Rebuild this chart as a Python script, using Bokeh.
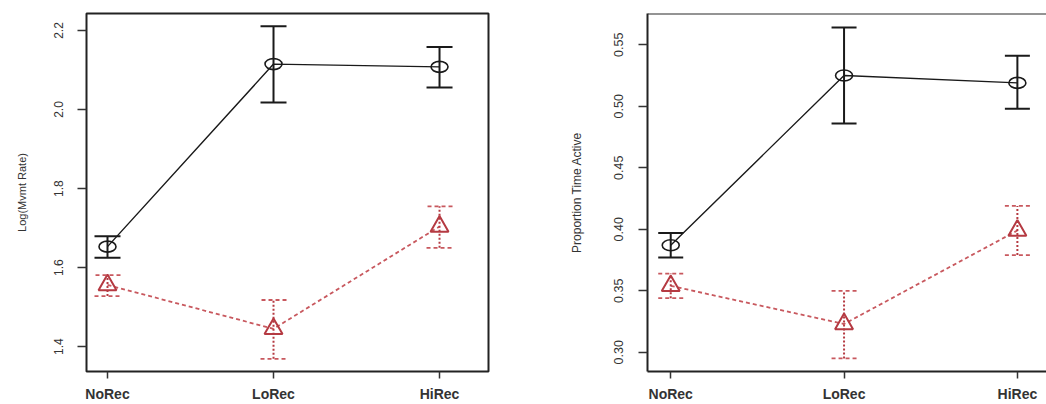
from bokeh.plotting import figure
from bokeh.layouts import row
from bokeh.models import ColumnDataSource, Whisker, TeeHead, FixedTicker, Span
from bokeh.embed import file_html
from bokeh.resources import INLINE

# ---------------- data ----------------
categories = ["NoRec", "LoRec", "HiRec"]
x_pos = [1, 2, 3]

# Panel 1: Log(Mvmt Rate)
rate_black_mean = [1.653, 2.115, 2.108]
rate_black_lo = [1.625, 2.018, 2.056]
rate_black_hi = [1.679, 2.211, 2.158]
rate_red_mean = [1.556, 1.445, 1.704]
rate_red_lo = [1.528, 1.369, 1.650]
rate_red_hi = [1.581, 1.518, 1.755]
rate_ticks = [1.4, 1.6, 1.8, 2.0, 2.2]
rate_tick_labels = ["1.4", "1.6", "1.8", "2.0", "2.2"]

# Panel 2: Proportion Time Active
act_black_mean = [0.387, 0.525, 0.519]
act_black_lo = [0.377, 0.486, 0.498]
act_black_hi = [0.397, 0.564, 0.541]
act_red_mean = [0.354, 0.323, 0.399]
act_red_lo = [0.344, 0.295, 0.379]
act_red_hi = [0.364, 0.350, 0.419]
act_ticks = [0.30, 0.35, 0.40, 0.45, 0.50, 0.55]
act_tick_labels = ["0.30", "0.35", "0.40", "0.45", "0.50", "0.55"]

FONT = "Liberation Sans"
BLACK = "#1a1a1a"
RED_MARK = "#b53a42"
RED_LINE = "#c8585e"


def make_panel(width, xr, yr, ticks, tick_labels, ylabel,
               b_mean, b_lo, b_hi, r_mean, r_lo, r_hi,
               border_left, border_right, border_top,
               tick_font, title_font, title_standoff, label_standoff,
               cap, full_box):
    p = figure(width=width, height=404, x_range=xr, y_range=yr,
               output_backend="svg", toolbar_location=None,
               min_border_left=border_left, min_border_right=border_right,
               min_border_top=border_top, min_border_bottom=31)
    p.xgrid.visible = False
    p.ygrid.visible = False
    p.background_fill_color = "white"
    p.border_fill_color = "white"

    # axes
    p.xaxis.ticker = FixedTicker(ticks=x_pos)
    p.xaxis.major_label_overrides = {x: c for x, c in zip(x_pos, categories)}
    p.xaxis.major_label_text_font = FONT
    p.xaxis.major_label_text_font_size = "14px"
    p.xaxis.major_label_text_font_style = "bold"
    p.xaxis.major_label_text_color = "#333333"
    p.xaxis.major_tick_out = 7
    p.xaxis.major_tick_in = 0
    p.xaxis.minor_tick_line_color = None
    p.xaxis.major_label_standoff = 7
    p.xaxis.major_tick_line_color = "#333333"
    p.xaxis.major_tick_line_width = 1.5

    p.yaxis.ticker = FixedTicker(ticks=ticks)
    p.yaxis.major_label_overrides = {t: s for t, s in zip(ticks, tick_labels)}
    p.yaxis.major_label_orientation = "vertical"
    p.yaxis.major_label_text_font = FONT
    p.yaxis.major_label_text_font_size = tick_font
    p.yaxis.major_label_text_color = "#333333"
    p.yaxis.major_tick_out = 9
    p.yaxis.major_tick_in = 0
    p.yaxis.minor_tick_line_color = None
    p.yaxis.major_label_standoff = label_standoff
    p.yaxis.major_tick_line_color = "#333333"
    p.yaxis.major_tick_line_width = 1.5
    p.yaxis.axis_label = ylabel
    p.yaxis.axis_label_text_font = FONT
    p.yaxis.axis_label_text_font_size = title_font
    p.yaxis.axis_label_text_font_style = "normal"
    p.yaxis.axis_label_text_color = "#333333"
    p.yaxis.axis_label_standoff = title_standoff

    if full_box:
        p.xaxis.axis_line_color = None
        p.yaxis.axis_line_color = None
        p.outline_line_color = "#222222"
        p.outline_line_width = 2
        p.outline_line_alpha = 1
    else:
        p.outline_line_color = None
        p.xaxis.axis_line_color = "#222222"
        p.xaxis.axis_line_width = 2
        p.yaxis.axis_line_color = "#222222"
        p.yaxis.axis_line_width = 2
        p.add_layout(Span(location=yr[1], dimension="width",
                          line_color="#2a2a2a", line_width=2))

    bsrc = ColumnDataSource(dict(x=x_pos, m=b_mean, lo=b_lo, hi=b_hi))
    rsrc = ColumnDataSource(dict(x=x_pos, m=r_mean, lo=r_lo, hi=r_hi))

    # red series (drawn first)
    p.line("x", "m", source=rsrc, line_color=RED_LINE, line_width=1.8,
           line_dash="4 3")
    rw = Whisker(source=rsrc, base="x", upper="hi", lower="lo",
                 dimension="height", line_color=RED_MARK, line_width=2,
                 line_dash="2 2", level="glyph",
                 upper_head=TeeHead(size=cap, line_color=RED_LINE,
                                    line_width=1.8, line_dash="4 3"),
                 lower_head=TeeHead(size=cap, line_color=RED_LINE,
                                    line_width=1.8, line_dash="4 3"))
    p.add_layout(rw)
    p.scatter("x", "m", source=rsrc, marker="triangle", size=18,
              fill_color=None, line_color=RED_MARK, line_width=2)

    # black series
    p.line("x", "m", source=bsrc, line_color=BLACK, line_width=1.4)
    bw = Whisker(source=bsrc, base="x", upper="hi", lower="lo",
                 dimension="height", line_color=BLACK, line_width=2,
                 level="glyph",
                 upper_head=TeeHead(size=cap, line_color=BLACK, line_width=2),
                 lower_head=TeeHead(size=cap, line_color=BLACK, line_width=2))
    p.add_layout(bw)
    p.ellipse("x", "m", source=bsrc, width=17, height=11,
              width_units="screen", height_units="screen",
              fill_color=None, line_color=BLACK, line_width=1.6)
    return p


left = make_panel(528, (0.8735, 3.295), (1.337, 2.243), rate_ticks,
                  rate_tick_labels, "Log(Mvmt Rate)",
                  rate_black_mean, rate_black_lo, rate_black_hi,
                  rate_red_mean, rate_red_lo, rate_red_hi,
                  border_left=86, border_right=40, border_top=13,
                  tick_font="12px", title_font="11px", title_standoff=24,
                  label_standoff=14, cap=26, full_box=True)

right = make_panel(518, (0.866, 3.168), (0.2844, 0.5754), act_ticks,
                   act_tick_labels, "Proportion Time Active",
                   act_black_mean, act_black_lo, act_black_hi,
                   act_red_mean, act_red_lo, act_red_hi,
                   border_left=119, border_right=0, border_top=7,
                   tick_font="12.5px", title_font="12px", title_standoff=28,
                   label_standoff=15, cap=25, full_box=False)

layout = row(left, right)
open("out.html", "w").write(file_html(layout, INLINE))
